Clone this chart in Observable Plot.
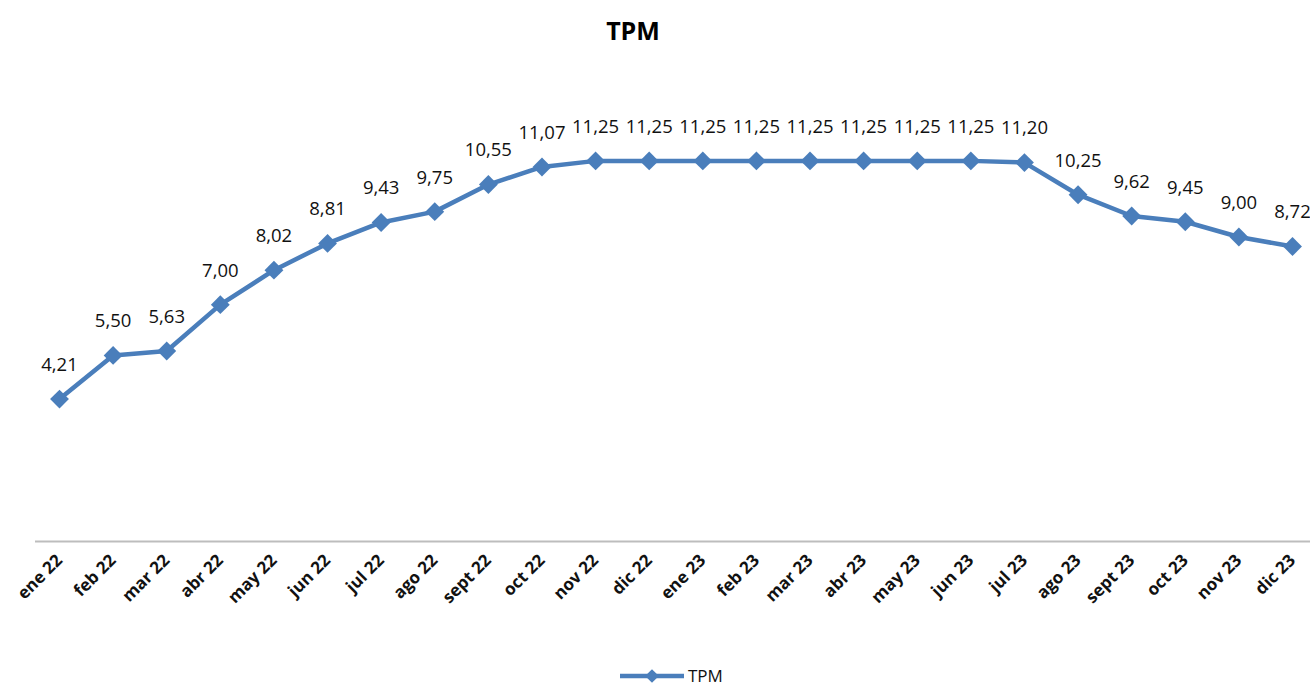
<!DOCTYPE html>
<html>
<head>
<meta charset="utf-8">
<script src="https://cdn.jsdelivr.net/npm/d3@7"></script>
<script src="https://cdn.jsdelivr.net/npm/@observablehq/plot@0.6"></script>
<style>
  body { margin: 0; background: #fff; font-family: "Open Sans", "Noto Sans", sans-serif; }
  #title { height: 60px; line-height: 60px; text-align: center; font-weight: bold; font-size: 25px; color: #000; width: 1266px; }
  #legend { height: 36px; position: relative; }
</style>
</head>
<body>
<div id="title">TPM</div>
<div id="chart"></div>
<div id="legend"></div>
<script>
const months = ["ene 22","feb 22","mar 22","abr 22","may 22","jun 22","jul 22","ago 22","sept 22","oct 22","nov 22","dic 22",
                "ene 23","feb 23","mar 23","abr 23","may 23","jun 23","jul 23","ago 23","sept 23","oct 23","nov 23","dic 23"];
const tpm = [4.21,5.50,5.63,7.00,8.02,8.81,9.43,9.75,10.55,11.07,11.25,11.25,
             11.25,11.25,11.25,11.25,11.25,11.25,11.20,10.25,9.62,9.45,9.00,8.72];
const seriesName = "TPM";

const data = months.map((m, i) => ({month: m, value: tpm[i]}));
const fmt = v => d3.format(".2f")(v).replace(".", ",");
const blue = "#4a7ebb";

const chart = Plot.plot({
  width: 1310,
  height: 590,
  marginTop: 75,
  marginBottom: 109,
  marginLeft: 35,
  marginRight: 0,
  style: {fontFamily: "'Open Sans', 'Noto Sans', sans-serif", color: "#000"},
  x: {type: "point", domain: months, padding: 0, round: false, insetLeft: 24, insetRight: 18},
  y: {domain: [0, 12], axis: null},
  marks: [
    Plot.ruleY([0], {stroke: "#bdbdbd", strokeWidth: 2}),
    Plot.line(data, {x: "month", y: "value", stroke: blue, strokeWidth: 4.5}),
    Plot.dot(data, {x: "month", y: "value", symbol: "diamond2", r: 8.5, fill: blue, stroke: null}),
    Plot.text(data, {x: "month", y: "value", text: d => fmt(d.value), dy: -34, fontSize: 18.5, fill: "#111"}),
    Plot.axisX({tickRotate: -45, tickSize: 0, tickPadding: 16, fontSize: 17, fontWeight: "bold", fill: "#111", label: null})
  ]
});
document.getElementById("chart").appendChild(chart);

// legend
const lg = d3.select("#legend").append("svg").attr("width", 1310).attr("height", 36);
lg.append("line").attr("x1", 620).attr("x2", 684).attr("y1", 26).attr("y2", 26)
  .attr("stroke", blue).attr("stroke-width", 4.5);
lg.append("path").attr("d", d3.symbol(d3.symbolDiamond2, 120)()).attr("transform", "translate(652,26)").attr("fill", blue);
lg.append("text").attr("x", 688).attr("y", 26).attr("dy", "0.35em").attr("font-size", 17)
  .attr("font-family", "'Open Sans', 'Noto Sans', sans-serif").attr("fill", "#111").text(seriesName);
</script>
</body>
</html>
